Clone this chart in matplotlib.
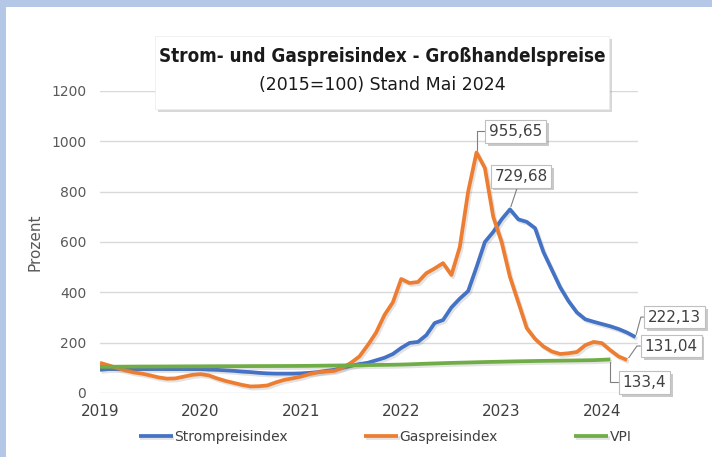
import matplotlib
matplotlib.use("Agg")
import matplotlib.pyplot as plt
import matplotlib.patheffects as pe
from matplotlib.patches import Rectangle, FancyBboxPatch

plt.rcParams['font.family'] = ['DejaVu Sans']

# ---- data (monthly, Jan 2019 = index 0) ----
strom = [92, 95, 95, 95, 95, 95, 95, 95, 95, 95, 95, 95,
         95, 93, 92, 90, 88, 85, 83, 80, 78, 77, 77, 77,
         78, 80, 83, 88, 92, 100, 108, 115, 120, 130, 140, 155,
         179, 199, 203, 230, 278, 290, 340, 375, 405, 500, 600, 640,
         690, 729.68, 690, 680, 655, 560, 490, 420, 365, 320, 293, 283,
         274, 265, 254, 240, 222.13]

gas = [120, 110, 100, 90, 82, 77, 70, 62, 57, 58, 65, 72,
       75, 70, 58, 48, 40, 32, 26, 27, 30, 42, 52, 58,
       65, 75, 82, 85, 88, 100, 120, 145, 190, 240, 310, 360,
       453, 437, 441, 476, 495, 516, 469, 580, 800, 955.65, 894, 700,
       600, 461, 360, 258, 215, 185, 165, 155, 158, 163, 190, 203,
       198, 170, 145, 131.04]

vpi = [104.0, 104.3, 104.6, 104.8, 105.0, 105.2, 105.3, 105.4, 105.5, 105.7, 105.9, 106.0,
       106.1, 106.3, 106.4, 106.5, 106.6, 106.7, 106.9, 107.0, 107.1, 107.2, 107.3, 107.5,
       107.7, 108.0, 108.4, 108.8, 109.2, 109.6, 110.0, 110.4, 110.9, 111.3, 111.8, 112.3,
       113.0, 114.0, 115.2, 116.5, 117.5, 118.6, 119.6, 120.5, 121.3, 122.2, 123.0, 123.8,
       124.5, 125.3, 126.0, 126.6, 127.2, 127.7, 128.2, 128.6, 129.0, 129.5, 130.0, 130.5,
       132.0, 133.4]

year_labels = ["2019", "2020", "2021", "2022", "2023", "2024"]
series_names = ["Strompreisindex", "Gaspreisindex", "VPI"]
colors = ["#4472C4", "#ED7D31", "#70AD47"]

fig = plt.figure(figsize=(7.12, 4.57), dpi=100)
fig.patch.set_facecolor("white")
# light blue frame on top and left
fig.patches.append(Rectangle((0, 1 - 7/457), 1, 7/457, transform=fig.transFigure,
                             facecolor="#b4c7e7", edgecolor="none", zorder=0))
fig.patches.append(Rectangle((0, 0), 6/712, 1, transform=fig.transFigure,
                             facecolor="#b4c7e7", edgecolor="none", zorder=0))

ax = fig.add_axes([100/712, 1 - 393/457, 538/712, 302/457])
ax.set_facecolor("none")

shadow = [pe.SimpleLineShadow(offset=(1.2, -1.5), shadow_color="gray", alpha=0.22), pe.Normal()]
data = [strom, gas, vpi]
lines = []
for name, vals, c in zip(series_names, data, colors):
    ln, = ax.plot(range(len(vals)), vals, color=c, lw=2.7, label=name,
                  path_effects=shadow, solid_capstyle="butt", solid_joinstyle="round", zorder=3)
    lines.append(ln)

ax.set_ylim(0, 1200)
ax.set_xlim(0, 64.3)
ax.set_yticks(range(0, 1201, 200))
ax.set_xticks([12 * i for i in range(len(year_labels))])
ax.set_xticklabels(year_labels)
ax.grid(axis="y", color="#d9d9d9", lw=1)
ax.set_axisbelow(True)
for s in ax.spines.values():
    s.set_visible(False)
ax.tick_params(axis="both", length=0)
ax.tick_params(axis="y", labelsize=10, labelcolor="#595959", pad=10)
ax.tick_params(axis="x", labelsize=11, labelcolor="#404040", pad=8)
ax.set_ylabel("Prozent", fontsize=11, color="#595959", labelpad=6)

# data labels
bbox = dict(boxstyle="square,pad=0.25", fc="white", ec="#bfbfbf", lw=0.8)
def label(idx, vals, text, off, conn):
    t = ax.annotate(text, xy=(idx, vals[idx]), xytext=off, textcoords="offset pixels",
                    ha="center", va="center", fontsize=11, color="#404040", bbox=bbox,
                    arrowprops=dict(arrowstyle="-", color="#7f7f7f", lw=0.8,
                                    connectionstyle=conn, shrinkA=0, shrinkB=2),
                    zorder=5)
    t.get_bbox_patch().set_path_effects([pe.SimplePatchShadow(offset=(2, -2), alpha=0.3), pe.Normal()])
    return t

label(gas.index(max(gas)), gas, "955,65", (39, 21), "angle,angleA=180,angleB=90,rad=0")
label(strom.index(max(strom)), strom, "729,68", (11, 33), "arc3")
label(len(strom) - 1, strom, "222,13", (39, 20), "angle,angleA=180,angleB=75,rad=0")
label(len(gas) - 1, gas, "131,04", (44, 14), "angle,angleA=180,angleB=55,rad=0")
label(len(vpi) - 1, vpi, "133,4", (34, -23), "angle,angleA=180,angleB=-90,rad=0")

# title box
tb = FancyBboxPatch((155/712, 1 - 109/457), 454/712, 73/457, boxstyle="square,pad=0",
                    transform=fig.transFigure, fc="white", ec="#ececec", lw=0.5, zorder=4)
tb.set_path_effects([pe.SimplePatchShadow(offset=(2.5, -2.5), shadow_rgbFace="gray", alpha=0.3), pe.Normal()])
fig.patches.append(tb)
fig.text(382/712, 1 - 56/457, "Strom- und Gaspreisindex - Großhandelspreise",
         ha="center", va="center", fontsize=13.5, fontweight="bold", color="#1a1a1a",
         fontstretch="condensed", zorder=5)
fig.text(382/712, 1 - 85/457, "(2015=100) Stand Mai 2024",
         ha="center", va="center", fontsize=12.5, color="#1a1a1a", zorder=5)

fig.legend(handles=lines, labels=series_names, loc="center", bbox_to_anchor=(385/712, 1 - 437/457),
           ncol=3, frameon=False, fontsize=10, handlelength=2.45, handletextpad=0.1,
           columnspacing=5.5, labelcolor="#404040")

fig.savefig("out.png", dpi=100)
